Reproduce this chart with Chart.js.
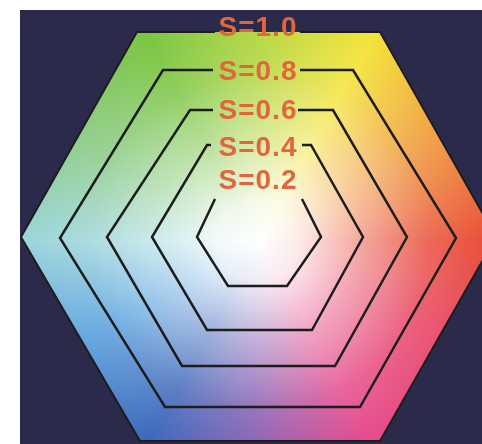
<!DOCTYPE html>
<html>
<head>
<meta charset="utf-8">
<script src="https://cdn.jsdelivr.net/npm/chart.js@4.4.1/dist/chart.umd.min.js"></script>
<style>
  html, body { margin: 0; padding: 0; background: #fff; }
  #wrap { position: absolute; left: 20px; top: 10px; width: 462px; height: 434px; background: #2c2a4b; }
</style>
</head>
<body>
<div id="wrap"><canvas id="hexChart" width="462" height="434"></canvas></div>
<script>
// saturation levels, outer to inner
const levels = ["S=1.0", "S=0.8", "S=0.6", "S=0.4", "S=0.2"];

// outline of each hexagon, open at the top where the label sits
const hexX = [
  [215, 137, 21, 140, 380, 496, 380, 300],
  [213, 163, 60, 165, 360, 456, 353, 300],
  [213, 190, 107, 182, 335, 407, 333, 298],
  [211, 207, 152, 207, 312, 363, 311, 302],
  [215, 197, 228, 287, 321, 302]
];
const hexY = [
  [32, 32, 237, 441, 441, 237, 32, 32],
  [70, 70, 238, 407, 407, 238, 70, 70],
  [110, 110, 237, 366, 366, 237, 110, 110],
  [145, 145, 237, 330, 330, 237, 145, 145],
  [199, 237, 286, 286, 237, 199]
];

const labelX = 258;
const labelY = [28, 72, 111, 148, 181];

// hue wheel, clockwise from the right vertex
const hueStops = [0, 0.08, 0.17, 0.25, 0.33, 0.42, 0.5, 0.58, 0.67, 0.75, 0.83, 0.92, 1];
const hueColors = ["#e9503a", "#e8486a", "#e64c8e", "#8a5cb0", "#3f68bb", "#5aa2de", "#9ed6dc",
  "#8ccc88", "#7cc644", "#b2d63c", "#f4e43c", "#f0973e", "#e9503a"];

const hexFill = {
  id: "hexFill",
  beforeDatasetsDraw(chart) {
    const pts = chart.getDatasetMeta(0).data.slice(1, 7);
    const c = chart.getDatasetMeta(4).data;
    const ctx = chart.ctx;
    const cx = (c[1].x + c[4].x) / 2;
    const cy = c[1].y + 4;
    ctx.save();
    ctx.beginPath();
    pts.forEach((p, i) => (i ? ctx.lineTo(p.x, p.y) : ctx.moveTo(p.x, p.y)));
    ctx.closePath();
    ctx.clip();
    const conic = ctx.createConicGradient(0, cx, cy);
    hueStops.forEach((s, i) => conic.addColorStop(s, hueColors[i]));
    ctx.fillStyle = conic;
    ctx.fillRect(0, 0, chart.width, chart.height);
    const rad = ctx.createRadialGradient(cx, cy, 0, cx, cy, 225);
    rad.addColorStop(0, "rgba(255,255,255,1)");
    rad.addColorStop(0.18, "rgba(255,255,255,0.88)");
    rad.addColorStop(0.45, "rgba(255,255,255,0.5)");
    rad.addColorStop(0.75, "rgba(255,255,255,0.15)");
    rad.addColorStop(1, "rgba(255,255,255,0)");
    ctx.fillStyle = rad;
    ctx.fillRect(0, 0, chart.width, chart.height);
    ctx.restore();
  }
};

const satLabels = {
  id: "satLabels",
  afterDatasetsDraw(chart) {
    const ctx = chart.ctx;
    const xs = chart.scales.x, ys = chart.scales.y;
    ctx.save();
    ctx.font = "bold 28px 'Liberation Sans', Arial, sans-serif";
    ctx.letterSpacing = "1px";
    ctx.fillStyle = "#e2653d";
    ctx.textAlign = "center";
    ctx.textBaseline = "middle";
    levels.forEach((t, i) => ctx.fillText(t, xs.getPixelForValue(labelX), ys.getPixelForValue(labelY[i])));
    ctx.restore();
  }
};

new Chart(document.getElementById("hexChart"), {
  type: "scatter",
  data: {
    datasets: levels.map((lv, i) => ({
      label: lv,
      data: hexX[i].map((x, j) => ({ x: x, y: hexY[i][j] })),
      showLine: true,
      borderColor: "#1d1d1d",
      borderWidth: i === 0 ? 2 : 2.5,
      pointRadius: 0,
      tension: 0,
      fill: false
    }))
  },
  options: {
    responsive: false,
    animation: false,
    layout: { padding: 0 },
    plugins: { legend: { display: false }, tooltip: { enabled: false } },
    scales: {
      x: { type: "linear", min: 20, max: 482, display: false },
      y: { type: "linear", min: 10, max: 444, reverse: true, display: false }
    }
  },
  plugins: [hexFill, satLabels]
});
</script>
</body>
</html>
